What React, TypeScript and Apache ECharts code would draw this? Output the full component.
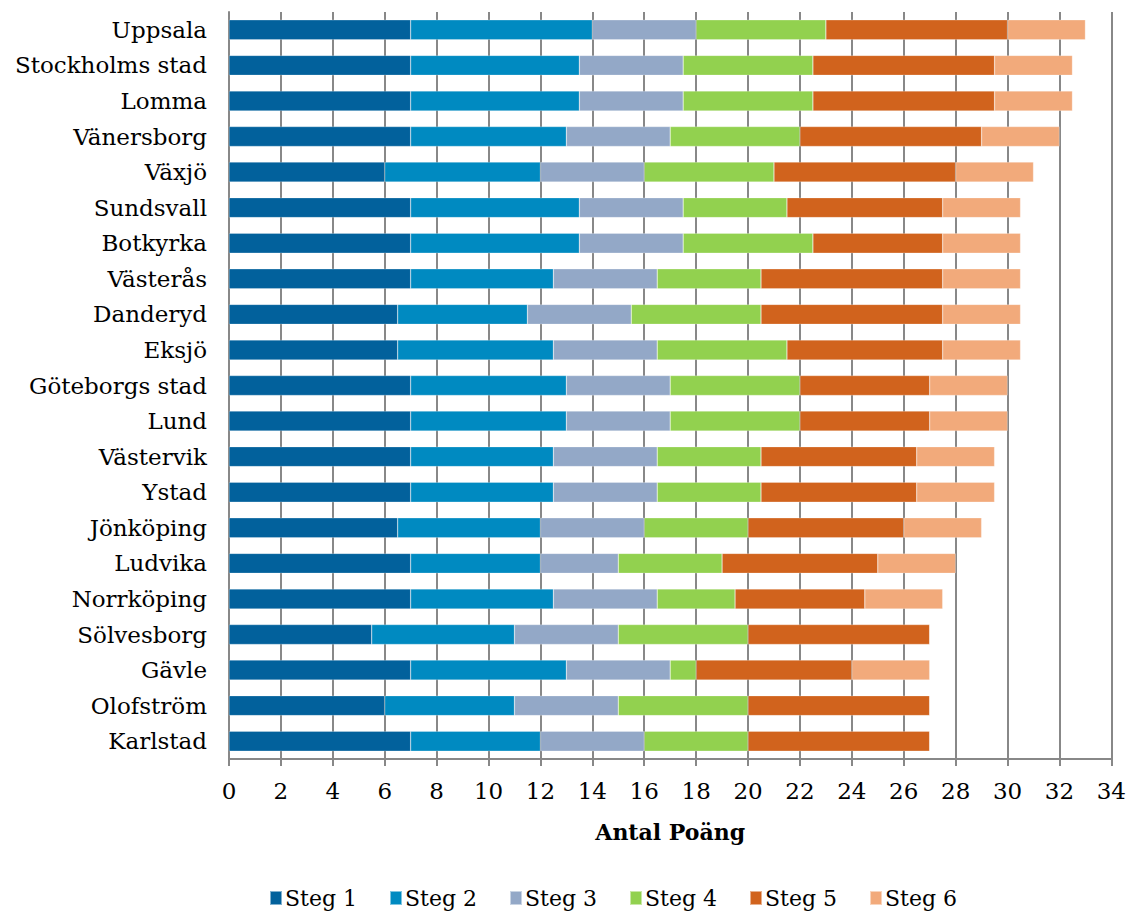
import React, { useEffect, useRef } from "react";
import * as echarts from "echarts";

const categories = [
  "Uppsala", "Stockholms stad", "Lomma", "Vänersborg", "Växjö", "Sundsvall", "Botkyrka",
  "Västerås", "Danderyd", "Eksjö", "Göteborgs stad", "Lund", "Västervik", "Ystad",
  "Jönköping", "Ludvika", "Norrköping", "Sölvesborg", "Gävle", "Olofström", "Karlstad",
];

const steg1 = [7, 7, 7, 7, 6, 7, 7, 7, 6.5, 6.5, 7, 7, 7, 7, 6.5, 7, 7, 5.5, 7, 6, 7];
const steg2 = [7, 6.5, 6.5, 6, 6, 6.5, 6.5, 5.5, 5, 6, 6, 6, 5.5, 5.5, 5.5, 5, 5.5, 5.5, 6, 5, 5];
const steg3 = [4, 4, 4, 4, 4, 4, 4, 4, 4, 4, 4, 4, 4, 4, 4, 3, 4, 4, 4, 4, 4];
const steg4 = [5, 5, 5, 5, 5, 4, 5, 4, 5, 5, 5, 5, 4, 4, 4, 4, 3, 5, 1, 5, 4];
const steg5 = [7, 7, 7, 7, 7, 6, 5, 7, 7, 6, 5, 5, 6, 6, 6, 6, 5, 7, 6, 7, 7];
const steg6 = [3, 3, 3, 3, 3, 3, 3, 3, 3, 3, 3, 3, 3, 3, 3, 3, 3, 0, 3, 0, 0];

const seriesNames = ["Steg 1", "Steg 2", "Steg 3", "Steg 4", "Steg 5", "Steg 6"];
const seriesData = [steg1, steg2, steg3, steg4, steg5, steg6];
const colors = ["#02619C", "#008AC1", "#93A8C7", "#92D14F", "#D1631D", "#F2AA7B"];

const xTicks = { min: 0, max: 34, interval: 2 };

export default function App() {
  const ref = useRef<HTMLDivElement>(null);
  useEffect(() => {
    if (!ref.current) return;
    const chart = echarts.init(ref.current, undefined, { renderer: "svg" });
    const font = "'DejaVu Serif', serif";
    chart.setOption({
      animation: false,
      color: colors,
      textStyle: { fontFamily: font },
      grid: { left: 221, right: 14, top: 4, bottom: 155, containLabel: false },
      legend: {
        data: seriesNames,
        left: 256,
        top: 874,
        icon: "rect",
        itemWidth: 12,
        itemHeight: 14,
        itemGap: 32,
        textStyle: { fontFamily: font, fontSize: 22, color: "#000", padding: [0, 0, 0, -2] },
      },
      xAxis: {
        type: "value",
        min: xTicks.min,
        max: xTicks.max,
        interval: xTicks.interval,
        name: "Antal Poäng",
        nameLocation: "middle",
        nameGap: 62,
        nameTextStyle: { fontFamily: font, fontSize: 22, fontWeight: "bold", color: "#000" },
        axisLine: { show: true, lineStyle: { color: "#888", width: 2 } },
        axisTick: { show: true, length: 7, lineStyle: { color: "#888", width: 2 } },
        axisLabel: { fontFamily: font, fontSize: 23, color: "#000", margin: 20 },
        splitLine: { show: true, lineStyle: { color: "#888", width: 2 } },
      },
      yAxis: {
        type: "category",
        data: categories,
        inverse: true,
        axisLine: { show: true, lineStyle: { color: "#888", width: 2 } },
        axisTick: { show: false },
        axisLabel: { fontFamily: font, fontSize: 23, color: "#000", margin: 22 },
      },
      series: seriesNames.map((name, i) => ({
        name,
        type: "bar",
        stack: "total",
        barWidth: "56%",
        data: seriesData[i],
        itemStyle: { color: colors[i], borderColor: "rgba(255,255,255,0.5)", borderWidth: 0.5 },
      })),
    });
    return () => chart.dispose();
  }, []);
  return <div ref={ref} style={{ width: 1121, height: 906 }} />;
}
